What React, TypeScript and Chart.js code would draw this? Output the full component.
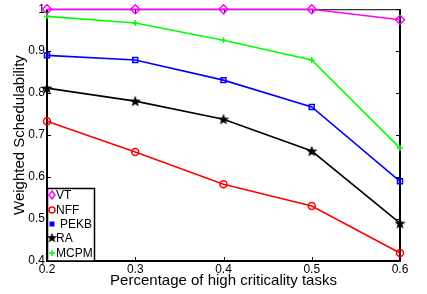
import React, { useEffect, useRef } from "react";
import { Chart, registerables } from "chart.js";
Chart.register(...registerables);

const xValues = [0.2, 0.3, 0.4, 0.5, 0.6];
const xTickLabels = ["0.2", "0.3", "0.4", "0.5", "0.6"];
const yTickValues = [0.4, 0.5, 0.6, 0.7, 0.8, 0.9, 1];
const yTickLabels = ["0.4", "0.5", "0.6", "0.7", "0.8", "0.9", "1"];

const vt = [1, 1, 1, 1, 0.975];
const nff = [0.733, 0.66, 0.583, 0.531, 0.419];
const pekb = [0.89, 0.879, 0.831, 0.767, 0.59];
const ra = [0.812, 0.781, 0.738, 0.662, 0.49];
const mcpm = [0.983, 0.967, 0.926, 0.879, 0.669];

const FONT = "'Liberation Sans', Arial, sans-serif";

function makeStar(size: number, color: string) {
  const c = document.createElement("canvas");
  c.width = size;
  c.height = size;
  const ctx = c.getContext("2d")!;
  const cx = size / 2, cy = size / 2 + 0.5, R = size / 2, r = R * 0.42;
  ctx.beginPath();
  for (let i = 0; i < 10; i++) {
    const a = -Math.PI / 2 + (i * Math.PI) / 5;
    const rr = i % 2 === 0 ? R : r;
    const px = cx + rr * Math.cos(a);
    const py = cy + rr * Math.sin(a);
    if (i === 0) ctx.moveTo(px, py);
    else ctx.lineTo(px, py);
  }
  ctx.closePath();
  ctx.fillStyle = color;
  ctx.fill();
  return c;
}

export default function App() {
  const ref = useRef<HTMLCanvasElement>(null);
  useEffect(() => {
    document.body.style.margin = "0";
    const star = makeStar(12, "#000000");
    const starSmall = makeStar(11, "#000000");
    const series = [
      { label: "VT", data: vt, color: "#ff00ff", style: "rectRot", radius: 4.5, fill: false },
      { label: "NFF", data: nff, color: "#ff0000", style: "circle", radius: 3.5, fill: false },
      { label: "PEKB", data: pekb, color: "#0000ff", style: "rect", radius: 3.5, fill: false },
      { label: "RA", data: ra, color: "#000000", style: star as any, radius: 6, fill: true },
      { label: "MCPM", data: mcpm, color: "#00ff00", style: "cross", radius: 3, fill: false },
    ];

    const framePlugin = {
      id: "frame",
      beforeDatasetsDraw(chart: any) {
        const { ctx, chartArea: a, scales } = chart;
        ctx.save();
        ctx.strokeStyle = "#000";
        ctx.lineWidth = 1;
        ctx.strokeRect(a.left + 0.5, a.top + 0.5, a.right - a.left - 1, a.bottom - a.top - 1);
        ctx.lineWidth = 2;
        ctx.beginPath();
        ctx.moveTo(a.left, a.top);
        ctx.lineTo(a.left, a.bottom);
        ctx.lineTo(a.right, a.bottom);
        ctx.lineTo(a.right, a.top);
        ctx.stroke();
        ctx.lineWidth = 1;
        ctx.beginPath();
        const tl = 4;
        yTickValues.forEach((v) => {
          const y = Math.round(scales.y.getPixelForValue(v)) + 0.5;
          ctx.moveTo(a.left, y);
          ctx.lineTo(a.left + tl, y);
          ctx.moveTo(a.right, y);
          ctx.lineTo(a.right - tl, y);
        });
        xValues.forEach((v) => {
          const x = Math.round(scales.x.getPixelForValue(v)) + 0.5;
          ctx.moveTo(x, a.bottom);
          ctx.lineTo(x, a.bottom - tl);
          ctx.moveTo(x, a.top);
          ctx.lineTo(x, a.top + tl);
        });
        ctx.stroke();
        ctx.restore();
      },
      afterDatasetsDraw(chart: any) {
        const { ctx, chartArea: a } = chart;
        ctx.save();
        const lx = a.left, ly = 188, lw = 47, lh = a.bottom - ly;
        ctx.fillStyle = "#fff";
        ctx.fillRect(lx, ly, lw, lh);
        ctx.strokeStyle = "#000";
        ctx.lineWidth = 1.5;
        ctx.strokeRect(lx + 0.5, ly + 0.5, lw, lh - 0.5);
        ctx.font = `12px ${FONT}`;
        ctx.textBaseline = "middle";
        const ys = [195, 210, 224, 238, 253];
        series.forEach((s, i) => {
          const y = ys[i];
          const mx = lx + 5;
          ctx.strokeStyle = s.color;
          ctx.fillStyle = s.color;
          ctx.lineWidth = 1.5;
          ctx.beginPath();
          if (s.label === "VT") {
            ctx.moveTo(mx, y - 4); ctx.lineTo(mx + 3, y); ctx.lineTo(mx, y + 4); ctx.lineTo(mx - 3, y); ctx.closePath();
            ctx.stroke();
          } else if (s.label === "NFF") {
            ctx.arc(mx, y, 3, 0, Math.PI * 2); ctx.stroke();
          } else if (s.label === "PEKB") {
            ctx.fillRect(mx - 2.5, y - 2.5, 5, 5);
          } else if (s.label === "RA") {
            ctx.drawImage(starSmall, mx - 5.5, y - 6);
          } else {
            ctx.moveTo(mx - 3, y); ctx.lineTo(mx + 3, y); ctx.moveTo(mx, y - 3); ctx.lineTo(mx, y + 3); ctx.stroke();
          }
          ctx.fillStyle = "#000";
          ctx.fillText(s.label, s.label === "PEKB" ? lx + 13 : lx + 9, y + 1);
        });
        ctx.restore();
      },
    };

    const chart = new Chart(ref.current!, {
      type: "line",
      data: {
        datasets: series.map((s) => ({
          label: s.label,
          data: xValues.map((x, i) => ({ x, y: s.data[i] })),
          borderColor: s.color,
          backgroundColor: s.fill ? s.color : "transparent",
          pointBorderColor: s.color,
          pointBackgroundColor: s.fill ? s.color : "rgba(0,0,0,0)",
          pointStyle: s.style,
          pointRadius: s.radius,
          pointBorderWidth: 1.5,
          borderWidth: 1.6,
          tension: 0,
          clip: false,
        })),
      },
      options: {
        animation: false,
        responsive: false,
        devicePixelRatio: 1,
        layout: { padding: { top: 9, right: 27, left: 0, bottom: 0 } },
        plugins: { legend: { display: false }, tooltip: { enabled: false } },
        scales: {
          x: {
            type: "linear",
            min: 0.2,
            max: 0.6,
            grid: { display: false, drawTicks: false },
            border: { display: false },
            afterBuildTicks: (s: any) => { s.ticks = xValues.map((v) => ({ value: v })); },
            afterFit: (s: any) => { s.height = 33; },
            ticks: {
              padding: 1,
              color: "#000",
              font: { family: FONT, size: 12 },
              callback: (_v: any, i: number) => xTickLabels[i],
            },
            title: {
              display: true,
              text: "Percentage of high criticality tasks",
              color: "#000",
              font: { family: FONT, size: 15 },
              padding: { top: 0, bottom: 4 },
            },
          },
          y: {
            type: "linear",
            min: 0.4,
            max: 1,
            grid: { display: false, drawTicks: false },
            border: { display: false },
            afterBuildTicks: (s: any) => { s.ticks = yTickValues.map((v) => ({ value: v })); },
            afterFit: (s: any) => { s.width = 47; },
            ticks: {
              padding: 2,
              color: "#000",
              font: { family: FONT, size: 12 },
              callback: (_v: any, i: number) => yTickLabels[i],
            },
            title: {
              display: true,
              text: "Weighted Schedulability",
              color: "#000",
              font: { family: FONT, size: 15 },
              padding: { top: 11, bottom: 0 },
            },
          },
        },
      },
      plugins: [framePlugin],
    } as any);
    return () => chart.destroy();
  }, []);
  return (
    <div style={{ position: "absolute", left: 0, top: 0, width: 427, height: 294, background: "#fff" }}>
      <canvas ref={ref} width={427} height={294} style={{ display: "block" }} />
    </div>
  );
}
